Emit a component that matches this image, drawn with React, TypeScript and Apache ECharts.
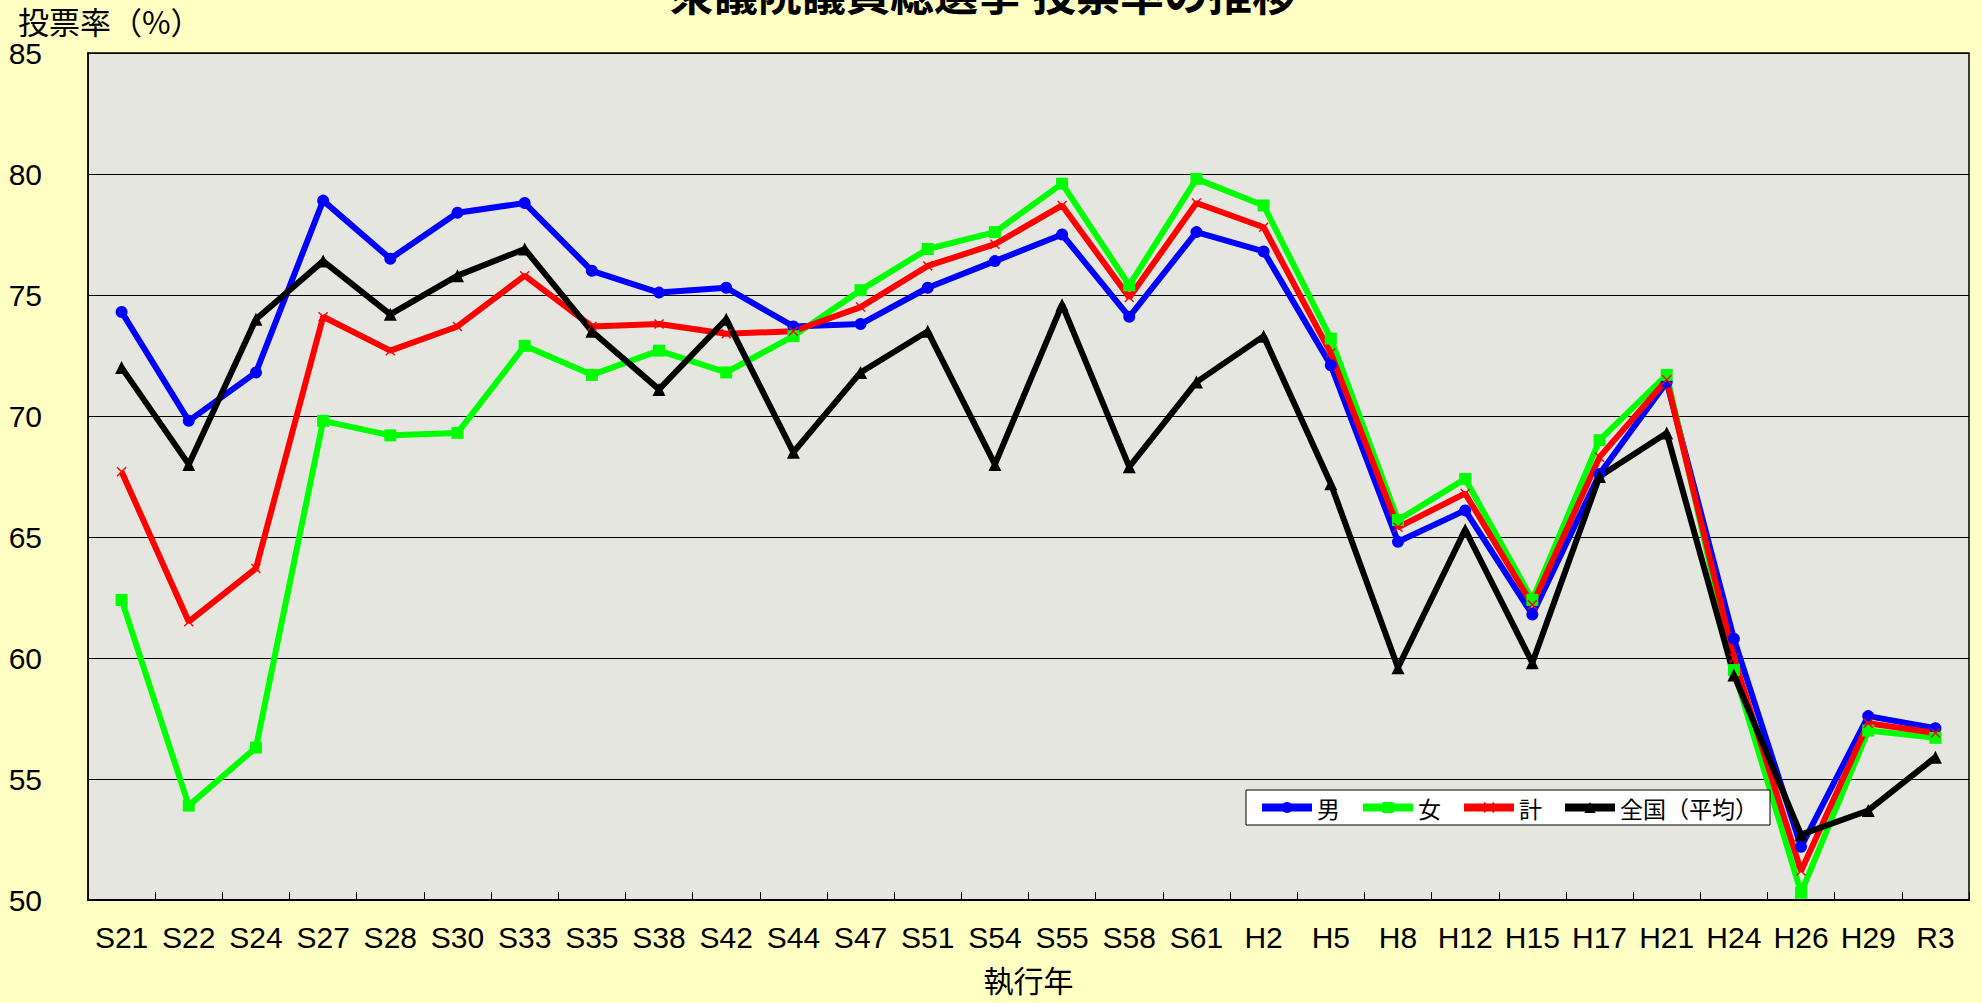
import React, { useEffect, useRef } from "react";
import * as echarts from "echarts";

const categories = ["S21","S22","S24","S27","S28","S30","S33","S35","S38","S42","S44","S47","S51","S54","S55","S58","S61","H2","H5","H8","H12","H15","H17","H21","H24","H26","H29","R3"];
const maleValues = [74.3,69.8,71.8,78.9,76.5,78.4,78.8,76.0,75.1,75.3,73.7,73.8,75.3,76.4,77.5,74.1,77.6,76.8,72.1,64.8,66.1,61.8,67.6,71.4,60.8,52.2,57.6,57.1];
const femaleValues = [62.4,53.9,56.3,69.8,69.2,69.3,72.9,71.7,72.7,71.8,73.3,75.2,76.9,77.6,79.6,75.4,79.8,78.7,73.2,65.7,67.4,62.4,69.0,71.7,59.5,50.3,57.0,56.7];
const totalValues = [67.7,61.5,63.7,74.1,72.7,73.7,75.8,73.7,73.8,73.4,73.5,74.5,76.2,77.1,78.7,74.9,78.8,77.8,72.6,65.4,66.8,62.2,68.3,71.5,60.0,51.2,57.3,56.9];
const nationalValues = [72.0,68.0,74.0,76.4,74.2,75.8,76.9,73.5,71.1,74.0,68.5,71.8,73.5,68.0,74.6,67.9,71.4,73.3,67.2,59.6,65.3,59.8,67.5,69.3,59.3,52.7,53.7,55.9];
const seriesNames = ["男", "女", "計", "全国（平均）"];
const yTicks = { min: 50, max: 85, interval: 5 };

const narrow = "'Liberation Sans Narrow', 'Arial Narrow', 'Liberation Sans', Arial, sans-serif";
const cjk = "'Noto Sans CJK JP', 'Noto Sans', sans-serif";
const xMark = "path://M0,1 L1,0 L5,4 L9,0 L10,1 L6,5 L10,9 L9,10 L5,6 L1,10 L0,9 L4,5 Z";

export default function App() {
  const ref = useRef<HTMLDivElement>(null);
  useEffect(() => {
    document.body.style.margin = "0";
    const chart = echarts.init(ref.current!, null, { renderer: "svg" });
    const mk = (name: string, data: number[], color: string, symbol: string, size: number) => ({
      name,
      type: "line",
      data,
      symbol,
      symbolSize: size,
      lineStyle: { color, width: 6 },
      itemStyle: { color },
      emphasis: { disabled: true },
    });
    chart.setOption({
      animation: false,
      backgroundColor: "#FFFFC4",
      graphic: [
        {
          type: "text",
          x: 983,
          y: 14,
          style: {
            text: "衆議院議員総選挙 投票率の推移",
            font: `bold 44px ${cjk}`,
            fill: "#000",
            textAlign: "center",
            textVerticalAlign: "bottom",
          },
        },
        {
          type: "text",
          x: 18,
          y: 5,
          style: {
            text: "投票率（%）",
            font: `31px ${cjk}`,
            lineHeight: 31,
            fill: "#000",
            textAlign: "left",
            textVerticalAlign: "top",
          },
        },
      ],
      grid: {
        left: 88,
        right: 13,
        top: 53,
        bottom: 103,
        show: true,
        backgroundColor: "#E6E6E0",
        borderColor: "#000",
        borderWidth: 1.5,
      },
      legend: {
        data: seriesNames,
        left: 1246,
        top: 790,
        orient: "horizontal",
        padding: [6, 12],
        itemGap: 19,
        itemWidth: 50,
        itemHeight: 14,
        backgroundColor: "#FFFFFF",
        borderColor: "#000",
        borderWidth: 1,
        borderRadius: 0,
        lineStyle: { width: 8 },
        textStyle: { fontSize: 23, fontFamily: cjk, color: "#000" },
      },
      xAxis: {
        type: "category",
        data: categories,
        boundaryGap: true,
        name: "執行年",
        nameLocation: "middle",
        nameGap: 64,
        nameTextStyle: { fontSize: 30, fontFamily: cjk, color: "#000" },
        axisLine: { lineStyle: { color: "#000", width: 2 } },
        axisTick: { show: true, inside: true, length: 8, lineStyle: { color: "#000" } },
        axisLabel: { fontSize: 30, fontFamily: narrow, color: "#000", margin: 22, interval: 0 },
        splitLine: { show: false },
      },
      yAxis: {
        type: "value",
        min: yTicks.min,
        max: yTicks.max,
        interval: yTicks.interval,
        axisLine: { show: true, lineStyle: { color: "#000", width: 1.5 } },
        axisTick: { show: false },
        axisLabel: { fontSize: 30, fontFamily: narrow, color: "#000", margin: 46, align: "right" },
        splitLine: { show: true, lineStyle: { color: "#000", width: 1 } },
      },
      series: [
        mk(seriesNames[0], maleValues, "#0000FF", "circle", 12),
        mk(seriesNames[1], femaleValues, "#00FF00", "rect", 12),
        mk(seriesNames[2], totalValues, "#FF0000", xMark, 10),
        mk(seriesNames[3], nationalValues, "#000000", "triangle", 13),
      ],
    });
    return () => chart.dispose();
  }, []);
  return <div ref={ref} style={{ width: 1982, height: 1003 }} />;
}
